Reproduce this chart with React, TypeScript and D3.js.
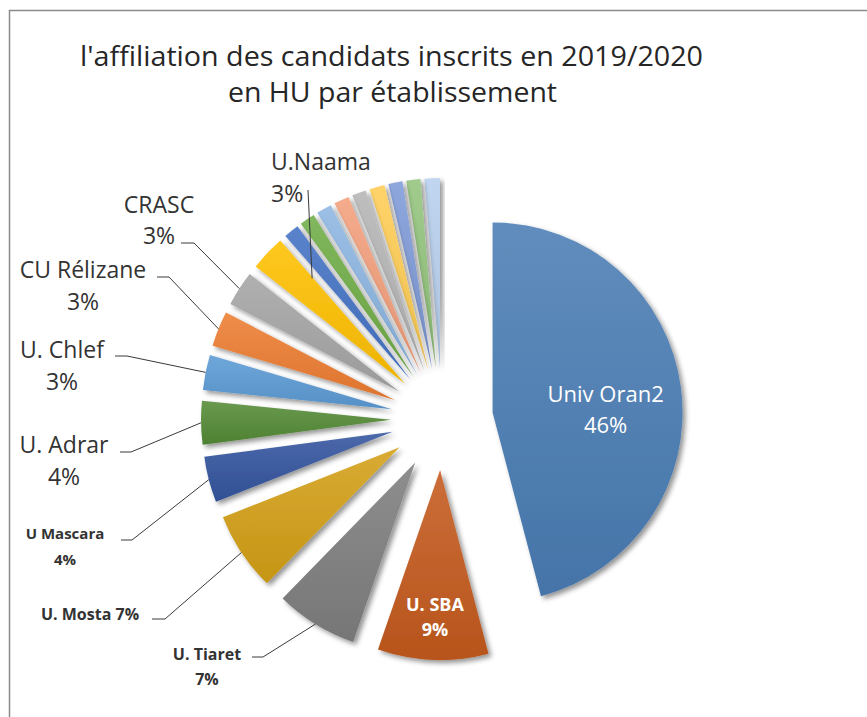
import React, { useRef, useEffect } from 'react';
import * as d3 from 'd3';

// Données (parts en %)
const titleLines = ["l'affiliation des candidats inscrits  en 2019/2020", 'en HU par établissement'];

const categories = [
  'Univ Oran2', 'U. SBA', 'U. Tiaret', 'U. Mosta', 'U Mascara', 'U. Adrar',
  'U. Chlef', 'CU Rélizane', 'CRASC', 'U.Naama',
  '', '', '', '', '', '', '', '', '',
];
const values = [45.9, 9.4, 7.0, 6.7, 3.9, 3.7, 3.0, 3.0, 3.0, 3.0, 1.3, 1.3, 1.3, 1.3, 1.2, 1.3, 1.2, 1.2, 1.3];

const palette = [
  '#4A7DB4', '#C55A1E', '#7F7F7F', '#D4A017', '#34559F', '#548B36', '#5B9BD5', '#ED7D31', '#A5A5A5',
  '#FFC000', '#4472C4', '#70AD47', '#8DB6E2', '#F3A07C', '#B5B5B5', '#FFCD55', '#7F9BD8', '#93C47D', '#B8D0EE',
];

// mise en page des étiquettes extérieures
const outsideLayout: Record<string, any> = {
  'U.Naama': { x: 271, y: 170, dy: 32, anchor: 'start', size: 23, bold: false, leader: [[308, 190]], t: 0.97, r: 0.74 },
  'CRASC': { x: 159, y: 213, dy: 31, anchor: 'middle', size: 23, bold: false, leader: [[181, 243], [194, 243]] },
  'CU Rélizane': { x: 83, y: 278, dy: 32, anchor: 'middle', size: 23, bold: false, leader: [[157, 277], [169, 277]] },
  'U. Chlef': { x: 62, y: 358, dy: 32, anchor: 'middle', size: 23, bold: false, leader: [[115, 356], [127, 356]] },
  'U. Adrar': { x: 64, y: 453, dy: 32, anchor: 'middle', size: 23, bold: false, leader: [[120, 452], [131, 452]] },
  'U Mascara': { x: 65, y: 539, dy: 26, anchor: 'middle', size: 15, bold: true, leader: [[121, 540], [132, 540]] },
  'U. Mosta': { x: 90, y: 620, dy: 0, anchor: 'middle', size: 16, bold: true, oneLine: true, leader: [[152, 619], [165, 619]] },
  'U. Tiaret': { x: 207, y: 660, dy: 25, anchor: 'middle', size: 16, bold: true, leader: [[252, 657], [263, 657]] },
};

const insideLayout: Record<string, any> = {
  'Univ Oran2': { k: 0.6, size: 22, bold: false, dy: 31, shift: 4 },
  'U. SBA': { k: 0.72, size: 18, bold: true, dy: 25, shift: 4 },
};

const App = () => {
  const ref = useRef<SVGSVGElement>(null);

  useEffect(() => {
    const svg = d3.select(ref.current);
    svg.selectAll('*').remove();

    const cx = 442, cy = 419, radius = 190, explode = 51;
    const font = "'Open Sans', 'DejaVu Sans', sans-serif";

    const data = categories.map((name, i) => ({ name, value: values[i], color: palette[i] }));
    const total = d3.sum(values);
    const pct = (v: number) => `${Math.round((v / total) * 100)}%`;

    const arcs = d3.pie<any>().sort(null).value(d => d.value)(data);
    const arcGen = d3.arc<any>().innerRadius(0).outerRadius(radius);

    const defs = svg.append('defs');
    const filter = defs.append('filter').attr('id', 'shadow')
      .attr('x', '-30%').attr('y', '-30%').attr('width', '160%').attr('height', '160%');
    filter.append('feDropShadow')
      .attr('dx', 3).attr('dy', 3).attr('stdDeviation', 2.5)
      .attr('flood-color', '#000').attr('flood-opacity', 0.42);

    arcs.forEach((a, i) => {
      const base = d3.color(a.data.color)!;
      const grad = defs.append('linearGradient').attr('id', `grad${i}`)
        .attr('x1', 0).attr('y1', 0).attr('x2', 0).attr('y2', 1);
      grad.append('stop').attr('offset', '0%').attr('stop-color', d3.interpolateRgb(a.data.color, '#ffffff')(0.12));
      grad.append('stop').attr('offset', '100%').attr('stop-color', base.darker(0.2).formatHex());
    });

    // cadre
    svg.append('path')
      .attr('d', 'M9.5,717 V10.5 H867')
      .attr('fill', 'none').attr('stroke', '#8a8a8a').attr('stroke-width', 1.5);

    // titre
    titleLines.forEach((line, i) => {
      svg.append('text')
        .attr('x', i === 0 ? 80 : 228)
        .attr('y', i === 0 ? 66 : 102)
        .attr('textLength', i === 0 ? 623 : 329)
        .attr('lengthAdjust', 'spacingAndGlyphs')
        .attr('font-family', font)
        .attr('font-size', 28)
        .attr('fill', '#262626')
        .text(line);
    });

    const apex = (a: any) => {
      const m = (a.startAngle + a.endAngle) / 2;
      return [cx + explode * Math.sin(m), cy - explode * Math.cos(m)];
    };
    const pointAt = (a: any, angle: number, r: number) => {
      const [ax, ay] = apex(a);
      return [ax + r * Math.sin(angle), ay - r * Math.cos(angle)];
    };

    // secteurs (du dernier au premier pour que les ombres se superposent proprement)
    const slices = svg.append('g');
    [...arcs].reverse().forEach(a => {
      const i = arcs.indexOf(a);
      const [ax, ay] = apex(a);
      slices.append('path')
        .attr('transform', `translate(${ax},${ay})`)
        .attr('d', arcGen(a))
        .attr('fill', `url(#grad${i})`)
        .attr('filter', 'url(#shadow)');
    });

    // étiquettes intérieures
    arcs.forEach(a => {
      const lay = insideLayout[a.data.name];
      if (!lay) return;
      const m = (a.startAngle + a.endAngle) / 2;
      const [px, py] = pointAt(a, m, lay.k * radius);
      [a.data.name, pct(a.data.value)].forEach((txt, j) => {
        svg.append('text')
          .attr('x', px).attr('y', py + lay.shift + j * lay.dy)
          .attr('text-anchor', 'middle')
          .attr('font-family', font)
          .attr('font-size', lay.size)
          .attr('font-weight', lay.bold ? 700 : 400)
          .attr('fill', '#ffffff')
          .text(txt);
      });
    });

    // étiquettes extérieures + lignes de rappel
    arcs.forEach(a => {
      const lay = outsideLayout[a.data.name];
      if (!lay) return;
      const ang = lay.t !== undefined
        ? a.startAngle + lay.t * (a.endAngle - a.startAngle)
        : (a.startAngle + a.endAngle) / 2;
      const target = pointAt(a, ang, (lay.r ?? 1) * radius);
      const pts = [...lay.leader, target];
      svg.append('path')
        .attr('d', d3.line()(pts as [number, number][]))
        .attr('fill', 'none').attr('stroke', '#3a3a3a').attr('stroke-width', 1);

      const lines = lay.oneLine ? [`${a.data.name} ${pct(a.data.value)}`] : [a.data.name, pct(a.data.value)];
      lines.forEach((txt, j) => {
        svg.append('text')
          .attr('x', lay.x).attr('y', lay.y + j * lay.dy)
          .attr('text-anchor', lay.anchor)
          .attr('font-family', font)
          .attr('font-size', lay.size)
          .attr('font-weight', lay.bold ? 700 : 400)
          .attr('fill', '#333333')
          .text(txt);
      });
    });
  }, []);

  return (
    <svg ref={ref} width={867} height={717}
      style={{ position: 'absolute', left: 0, top: 0, background: '#ffffff' }} />
  );
};

export default App;
